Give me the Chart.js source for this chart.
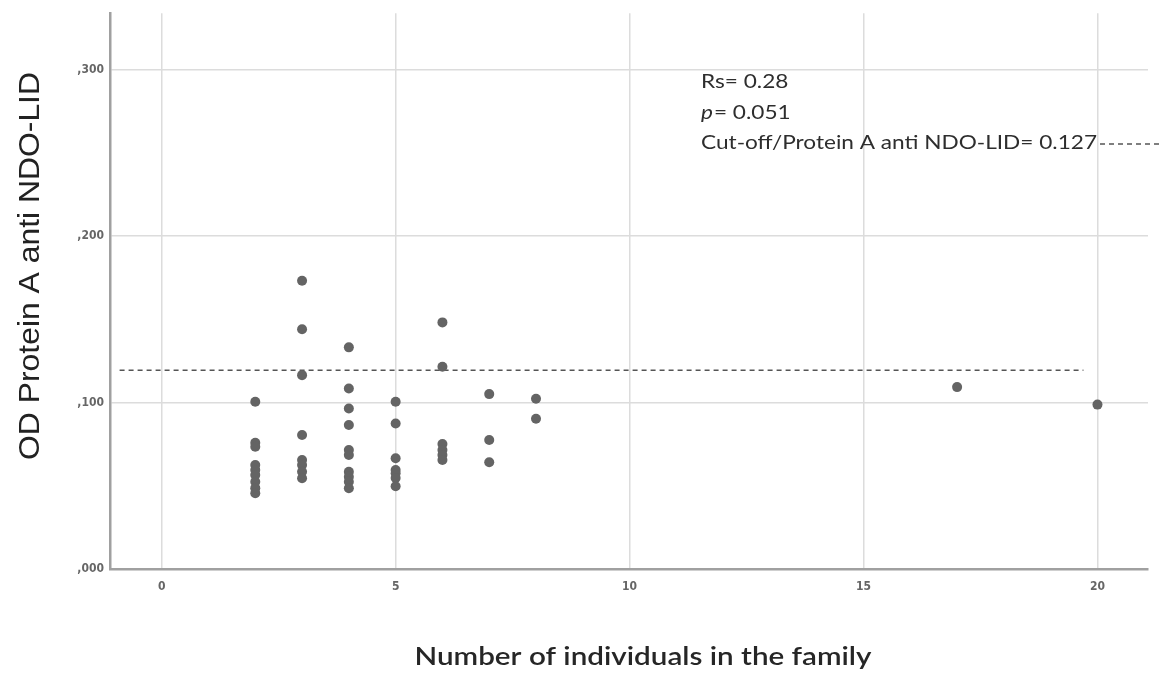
<!DOCTYPE html>
<html>
<head>
<meta charset="utf-8">
<script src="https://cdn.jsdelivr.net/npm/chart.js@4.4.1/dist/chart.umd.min.js"></script>
<style>
  html, body { margin: 0; padding: 0; background: #fff; }
  #wrap { width: 1159px; height: 682px; position: relative; }
</style>
</head>
<body>
<div id="wrap"><canvas id="myChart"></canvas></div>
<script>
// family size (x) and OD value (y) per individual
const familySize = [
  2, 2, 2, 2, 2, 2, 2, 2, 2,
  3, 3, 3, 3, 3, 3, 3, 3,
  4, 4, 4, 4, 4, 4, 4, 4, 4, 4,
  5, 5, 5, 5, 5, 5, 5,
  6, 6, 6, 6, 6, 6,
  7, 7, 7,
  8, 8,
  17, 20
];
const odValues = [
  0.1005, 0.0759, 0.0735, 0.0625, 0.0595, 0.0565, 0.0524, 0.0486, 0.0455,
  0.1732, 0.1441, 0.1165, 0.0805, 0.0655, 0.0625, 0.0584, 0.0545,
  0.1332, 0.1085, 0.0965, 0.0865, 0.0715, 0.0685, 0.0584, 0.0554, 0.0524, 0.0485,
  0.1005, 0.0874, 0.0665, 0.0595, 0.0575, 0.0547, 0.0497,
  0.1482, 0.1215, 0.0751, 0.0715, 0.0685, 0.0655,
  0.1051, 0.0775, 0.0641,
  0.1023, 0.0903,
  0.1093, 0.0988
];

// dashed cut-off reference line
const cutoffX = [-0.9, 19.7];
const cutoffY = 0.1195;

const xTicks = [0, 5, 10, 15, 20];
const yTicks = [0, 0.1, 0.2, 0.3];

const statLines = ['Rs= 0.28', '= 0.051', 'Cut-off/Protein A anti NDO-LID= 0.127'];
const xTitle = 'Number of individuals in the family';
const yTitle = 'OD Protein A anti NDO-LID';

const points = familySize.map((x, i) => ({ x: x, y: odValues[i] }));
const cutoff = cutoffX.map(x => ({ x: x, y: cutoffY }));

const bodyFont = 'Lato, "Open Sans", sans-serif';

// draws text squeezed/stretched horizontally by sx, returns drawn width
function drawStretched(ctx, text, x, y, sx) {
  ctx.save();
  ctx.translate(x, y);
  ctx.scale(sx, 1);
  ctx.fillText(text, 0, 0);
  ctx.restore();
  return ctx.measureText(text).width * sx;
}

// titles and the stats box are drawn by hand, SPSS style
const textPlugin = {
  id: 'spssText',
  afterDraw(chart) {
    const ctx = chart.ctx;
    ctx.save();

    // y title
    ctx.fillStyle = '#222';
    ctx.font = '30px "Liberation Sans", Arial, sans-serif';
    ctx.textAlign = 'center';
    ctx.textBaseline = 'middle';
    ctx.translate(31, 266);
    ctx.rotate(-Math.PI / 2);
    const yw = ctx.measureText(yTitle).width;
    ctx.scale(388 / yw, 1);
    ctx.fillText(yTitle, 0, 0);
    ctx.setTransform(1, 0, 0, 1, 0, 0);

    // x title
    ctx.fillStyle = '#262626';
    ctx.font = '600 25px ' + bodyFont;
    const xw = ctx.measureText(xTitle).width;
    drawStretched(ctx, xTitle, 643, 657, 457 / xw);

    // stats
    ctx.fillStyle = '#2e2e2e';
    ctx.textAlign = 'left';
    const sx = 1.19;
    ctx.font = '19px ' + bodyFont;
    drawStretched(ctx, statLines[0], 701, 82, sx);
    ctx.font = 'italic 19px ' + bodyFont;
    const pw = drawStretched(ctx, 'p', 701, 113, sx);
    ctx.font = '19px ' + bodyFont;
    drawStretched(ctx, statLines[1], 701 + pw + 1, 113, sx);
    const tw = drawStretched(ctx, statLines[2], 701, 143, sx);

    ctx.strokeStyle = '#555';
    ctx.lineWidth = 1.5;
    ctx.setLineDash([5, 4]);
    ctx.beginPath();
    ctx.moveTo(701 + tw + 3, 144);
    ctx.lineTo(1159, 144);
    ctx.stroke();
    ctx.restore();
  }
};

const tickFont = { size: 12, weight: 'bold', family: '"Liberation Sans Narrow", "DejaVu Sans Condensed", sans-serif' };

const ctx = document.getElementById('myChart').getContext('2d');
new Chart(ctx, {
  type: 'scatter',
  data: {
    datasets: [
      {
        label: 'OD',
        data: points,
        backgroundColor: '#646464',
        borderWidth: 0,
        pointRadius: 5,
        pointHoverRadius: 5
      },
      {
        type: 'line',
        label: 'cut-off',
        data: cutoff,
        borderColor: '#555',
        borderWidth: 1.5,
        borderDash: [5, 4],
        pointRadius: 0,
        fill: false
      }
    ]
  },
  options: {
    responsive: true,
    maintainAspectRatio: false,
    animation: false,
    layout: { padding: { top: 13, right: 11, left: 0, bottom: 0 } },
    plugins: {
      legend: { display: false },
      tooltip: { enabled: false }
    },
    scales: {
      x: {
        type: 'linear',
        min: -1.105,
        max: 21.08,
        afterBuildTicks: s => { s.ticks = xTicks.map(v => ({ value: v })); },
        afterFit: s => { s.height = 113; },
        grid: { color: '#dcdcdc', lineWidth: 1.5, drawTicks: false },
        border: { color: '#a0a0a0', width: 2.5 },
        ticks: { color: '#666', padding: 11, font: tickFont }
      },
      y: {
        type: 'linear',
        min: 0,
        max: 0.334,
        afterBuildTicks: s => { s.ticks = yTicks.map(v => ({ value: v })); },
        afterFit: s => { s.width = 110; },
        grid: { color: '#dcdcdc', lineWidth: 1.5, drawTicks: false },
        border: { color: '#a0a0a0', width: 2.5 },
        ticks: {
          color: '#666',
          padding: 6,
          font: tickFont,
          callback: v => ',' + String(Math.round(v * 1000)).padStart(3, '0')
        }
      }
    }
  },
  plugins: [textPlugin]
});
</script>
</body>
</html>
